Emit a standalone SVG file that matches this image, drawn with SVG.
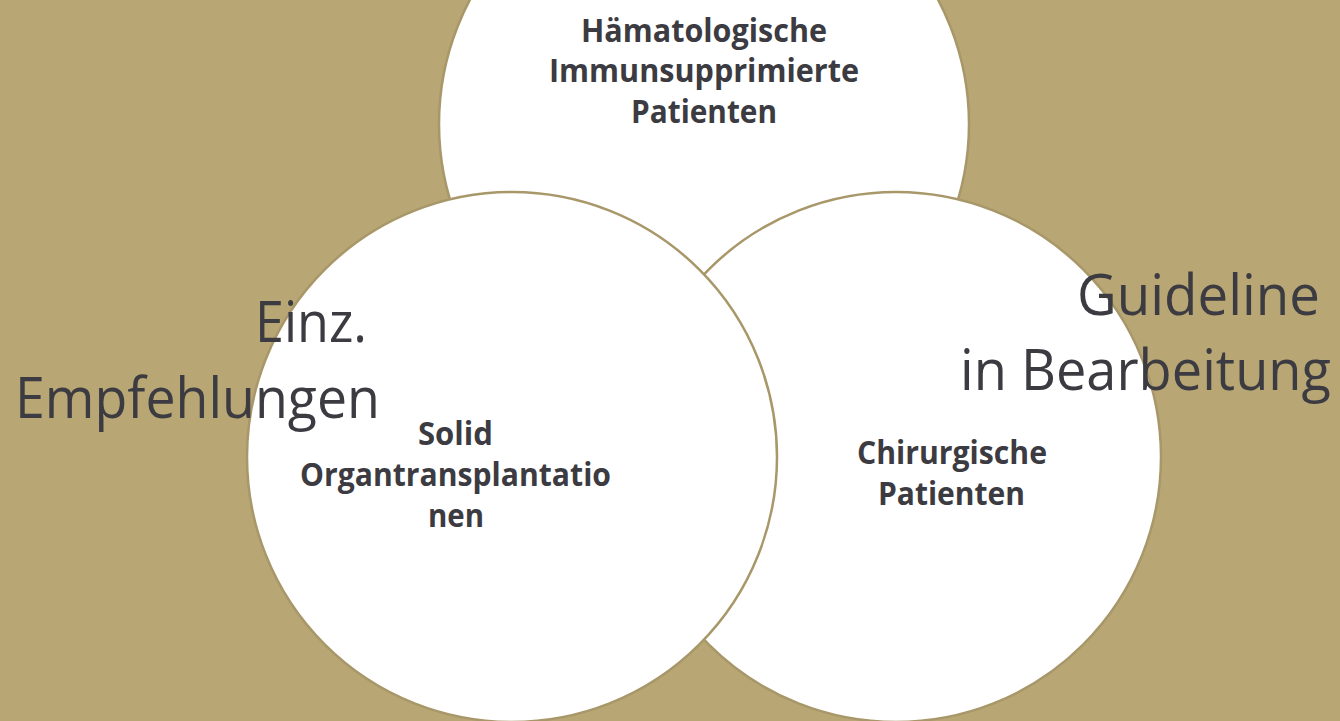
<svg xmlns="http://www.w3.org/2000/svg" width="1340" height="721" viewBox="0 0 1340 721">
<style>
.bg{fill:#B8A674}
.c{fill:#FFFFFF;stroke:#A89769;stroke-width:2.5}
.b{font-family:"Open Sans","Liberation Sans",sans-serif;font-weight:bold;font-size:32px;fill:#3B3B41}
.l{font-family:"Open Sans","Liberation Sans",sans-serif;font-size:56px;fill:#3B3B41}
</style>
<rect class="bg" x="0" y="0" width="1340" height="721"/>
<g id="node-haematologische">
<circle class="c" cx="704" cy="124" r="265"/>
</g>
<g id="node-chirurgische">
<circle class="c" cx="896" cy="457" r="265"/>
</g>
<g id="node-solid">
<circle class="c" cx="512" cy="457" r="265"/>
</g>
<g id="connectors"></g>
<g id="labels">
<text class="b" x="581" y="42" textLength="246" lengthAdjust="spacingAndGlyphs">Hämatologische</text>
<text class="b" x="549" y="82" textLength="310" lengthAdjust="spacingAndGlyphs">Immunsupprimierte</text>
<text class="b" x="631" y="123" textLength="146" lengthAdjust="spacingAndGlyphs">Patienten</text>
<text class="b" x="418" y="445" textLength="75" lengthAdjust="spacingAndGlyphs">Solid</text>
<text class="b" x="300" y="486" textLength="311" lengthAdjust="spacingAndGlyphs">Organtransplantatio</text>
<text class="b" x="428" y="527" textLength="56" lengthAdjust="spacingAndGlyphs">nen</text>
<text class="b" x="857" y="464" textLength="190" lengthAdjust="spacingAndGlyphs">Chirurgische</text>
<text class="b" x="878" y="505" textLength="147" lengthAdjust="spacingAndGlyphs">Patienten</text>
<text class="l" x="255" y="342" textLength="112" lengthAdjust="spacingAndGlyphs">Einz.</text>
<text class="l" x="15" y="418" textLength="365" lengthAdjust="spacingAndGlyphs">Empfehlungen</text>
<text class="l" x="1077" y="315" textLength="243" lengthAdjust="spacingAndGlyphs">Guideline</text>
<text class="l" x="960" y="390" textLength="371" lengthAdjust="spacingAndGlyphs">in Bearbeitung</text>
</g>
</svg>
